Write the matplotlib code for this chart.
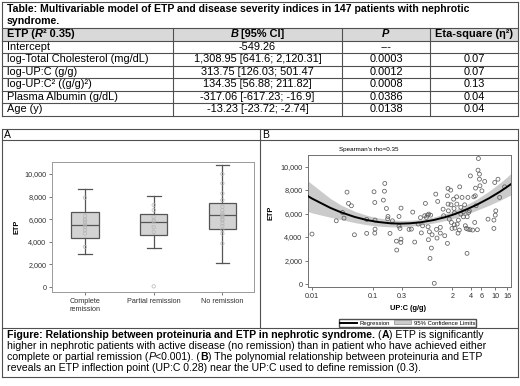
import numpy as np
import matplotlib
matplotlib.use('Agg')
import matplotlib.pyplot as plt
from matplotlib.lines import Line2D
from matplotlib.patches import Rectangle, Patch

plt.rcParams['font.family'] = ['Liberation Sans', 'DejaVu Sans']

W, H = 520, 386

# ---- table data ----
table_title = ["Table: Multivariable model of ETP and disease severity indices in 147 patients with nephrotic",
               "syndrome."]
row_labels = ["Intercept", "log-Total Cholesterol (mg/dL)", "log-UP:C (g/g)",
              "log-UP:C\u00b2 ((g/g)\u00b2)", "Plasma Albumin (g/dL)", "Age (y)"]
b_ci = ["-549.26", "1,308.95 [641.6; 2,120.31]", "313.75 [126.03; 501.47",
        "134.35 [56.88; 211.82]", "-317.06 [-617.23; -16.9]", "-13.23 [-23.72; -2.74]"]
p_vals = ["---", "0.0003", "0.0012", "0.0008", "0.0386", "0.0138"]
eta_sq = ["", "0.07", "0.07", "0.13", "0.04", "0.04"]

# ---- panel A: box plot by remission status ----
groups = ["Complete\nremission", "Partial remission", "No remission"]
box_lo = [2900, 3460, 2130]
box_q1 = [4350, 4560, 5150]
box_med = [5530, 5770, 6330]
box_q3 = [6600, 6420, 7430]
box_hi = [8640, 8050, 10770]
pts_complete = [7900, 6300, 6000, 5900, 5700, 5470, 5300, 5030, 4730, 3550]
pts_partial = [7250, 6800, 6200, 5900, 5800, 5300, 4880, 60]
pts_none = [10000, 9170, 8280, 7690, 7100, 6800, 6500, 6350, 6200, 6000, 5900,
            5620, 5400, 5030, 4730, 3850]
a_yticks = [0, 2000, 4000, 6000, 8000, 10000]

# ---- panel B: ETP vs UP:C ----
upc = [0.01, 0.025, 0.0316, 0.0335, 0.0375, 0.0397, 0.0443, 0.0496, 0.0788, 0.0788,
       0.104, 0.107, 0.108, 0.108, 0.107, 0.148, 0.156, 0.154, 0.166, 0.174,
       0.176, 0.19, 0.208, 0.245, 0.267, 0.267, 0.277, 0.288, 0.288, 0.286,
       0.242,
       0.426, 0.483, 0.448, 0.705, 0.723, 0.75, 0.78, 0.82, 0.88, 0.8,
       0.84, 0.93, 0.81, 0.906, 0.86, 1.01, 1.07, 1.15, 1.1, 1.12,
       1.27, 1.27, 1.41, 1.44, 1.5, 1.66, 1.7, 1.66, 1.7, 1.72,
       1.78, 1.88, 1.9, 1.93, 1.97, 2.1, 2.13, 2.17, 2.15, 2.2,
       2.35, 2.37, 2.4, 2.51, 2.64, 2.75, 2.75, 2.6, 2.48, 2.88,
       3.03, 3.03, 3.18, 3.26, 3.38, 3.48, 3.5, 3.6, 3.6, 3.7,
       3.8, 3.89, 4.3, 4.65, 4.75, 4.9, 5.14, 4.5, 4.8, 3.95,
       5.27, 5.56, 5.35, 5.56, 5.67, 6.1, 6.78, 7.68, 9.6, 9.6,
       9.9, 10.1, 10.3, 11.2, 11.9, 14.4, 0.39, 0.55, 0.6, 0.65,
       0.62]
etp = [4250, 5380, 6090, 5610, 7820, 6860, 6660, 4190, 4310, 5500,
       7850, 6940, 5440, 4670, 4330, 7140, 8560, 7900, 6430, 5550,
       5750, 4310, 5380, 2890, 5750, 4930, 4730, 6460, 3820, 3540,
       3650,
       4670, 3570, 6120, 5810, 6860, 5670, 5860, 5950, 5860, 4870,
       4450, 4190, 3770, 3060, 2180, 60, 7650, 7030, 4650, 3910,
       4820, 4330, 6370, 5810, 4110, 3460, 8130, 7510, 6800, 6230,
       5520, 7990, 6740, 5240, 4730, 7220, 6430, 6060, 5040, 4760,
       7420, 6800, 5100, 5440, 8270, 6520, 5950, 4590, 4330, 7370,
       6150, 5720, 6740, 4960, 4730, 2610, 5720, 7370, 4670, 6090,
       6230, 4620, 4590, 5240, 7510, 6660, 4620, 7420, 8160, 9200,
       9690, 9350, 10680, 8920, 8360, 7930, 8730, 5520, 5440, 4730,
       8640, 5860, 6230, 8920, 7370, 8270, 4650, 5100, 5650, 4950,
       4350]
curve_x = [0.0086, 0.01, 0.02, 0.03, 0.05, 0.08, 0.12, 0.2, 0.28, 0.4,
           0.6, 1, 1.5, 2, 3, 5, 8, 12, 16, 18.3]
curve_y = [7475, 7275, 6480, 6100, 5710, 5440, 5280, 5160, 5140, 5165,
           5250, 5450, 5680, 5880, 6220, 6740, 7300, 7850, 8290, 8500]
ci_lo = [6175, 6055, 5680, 5480, 5230, 5040, 4930, 4860, 4870, 4910,
         5010, 5195, 5390, 5560, 5840, 6270, 6700, 7110, 7440, 7580]
ci_hi = [8775, 8495, 7280, 6720, 6190, 5840, 5630, 5460, 5410, 5420,
         5490, 5705, 5970, 6200, 6600, 7210, 7900, 8590, 9140, 9420]
b_xticks = [0.01, 0.1, 0.3, 2, 4, 6, 10, 16]
b_xticklabels = ["0.01", "0.1", "0.3", "2", "4", "6", "10", "16"]

fig = plt.figure(figsize=(5.2, 3.86), dpi=100)
fig.patch.set_facecolor('white')
r = fig.canvas.get_renderer()
LC = '#505050'


def X(x):
    return x / W


def Y(y):
    return 1 - y / H


def hline(x0, x1, y, lw=0.8, color=LC):
    fig.add_artist(Line2D([X(x0), X(x1)], [Y(y), Y(y)], transform=fig.transFigure,
                          color=color, lw=lw))


def vline(x, y0, y1, lw=0.8, color=LC):
    fig.add_artist(Line2D([X(x), X(x)], [Y(y0), Y(y1)], transform=fig.transFigure,
                          color=color, lw=lw))


def tw(s, **kw):
    t = fig.text(0, 0, '|' + s + '|', **kw)
    w1 = t.get_window_extent(r).width
    t.remove()
    t = fig.text(0, 0, '||', **kw)
    w0 = t.get_window_extent(r).width
    t.remove()
    return w1 - w0


def runs(x, y, parts, size, ha='left'):
    # parts: (text, weight, style)
    widths = [tw(s, fontsize=size, fontweight=w, fontstyle=st) for s, w, st in parts]
    cur = x
    if ha == 'center':
        cur = x - sum(widths) / 2
    for (s, w, st), wd in zip(parts, widths):
        lead = len(s) - len(s.lstrip(' '))
        off = tw(' ' * lead, fontsize=size, fontweight=w, fontstyle=st) if lead else 0
        fig.text(X(cur + off), Y(y), s.strip(' '), fontsize=size, fontweight=w,
                 fontstyle=st, va='center', ha='left')
        cur += wd


# ---- table ----
T_TOP, T_HEAD, ROW_H = 1.5, 28, 12.5
col_x = [2, 173, 342, 430, 518]
rows_y = [T_HEAD + ROW_H * (i + 1) for i in range(len(row_labels) + 1)]
fig.add_artist(Rectangle((X(2), Y(T_HEAD + ROW_H)), (516) / W, ROW_H / H,
                         transform=fig.transFigure, facecolor='#d9d9d9', edgecolor='none'))
hline(2, 518, T_TOP)
hline(2, 518, T_HEAD)
for yy in rows_y:
    hline(2, 518, yy)
vline(2, T_TOP, rows_y[-1])
vline(518, T_TOP, rows_y[-1])
for cx in col_x[1:-1]:
    vline(cx, T_HEAD, rows_y[-1])

fs_t = 7.9
for i, line in enumerate(table_title):
    fig.text(X(7), Y(8.5 + 12.5 * i), line, fontsize=7.6, fontweight='bold', va='center')

hy = T_HEAD + ROW_H / 2
runs(7, hy, [("ETP (", 'bold', 'normal'), ("R", 'bold', 'italic'),
             ("\u00b2 0.35)", 'bold', 'normal')], fs_t)
runs((col_x[1] + col_x[2]) / 2, hy, [("B", 'bold', 'italic'), (" [95% CI]", 'bold', 'normal')],
     fs_t, ha='center')
runs((col_x[2] + col_x[3]) / 2, hy, [("P", 'bold', 'italic')], fs_t, ha='center')
runs((col_x[3] + col_x[4]) / 2, hy, [("Eta-square (\u03b7\u00b2)", 'bold', 'normal')], fs_t,
     ha='center')

for i in range(len(row_labels)):
    cy = T_HEAD + ROW_H * (i + 1) + ROW_H / 2
    fig.text(X(7), Y(cy), row_labels[i], fontsize=fs_t, va='center')
    fig.text(X((col_x[1] + col_x[2]) / 2), Y(cy), b_ci[i], fontsize=fs_t, va='center', ha='center')
    fig.text(X((col_x[2] + col_x[3]) / 2), Y(cy), p_vals[i], fontsize=fs_t, va='center', ha='center')
    fig.text(X((col_x[3] + col_x[4]) / 2), Y(cy), eta_sq[i], fontsize=fs_t, va='center', ha='center')

# ---- panel frames ----
P_TOP, P_STRIP, P_BOT, C_BOT = 129, 140, 328, 377
hline(2, 518, P_TOP)
hline(2, 518, P_STRIP)
hline(2, 518, P_BOT)
hline(2, 518, C_BOT)
vline(2, P_TOP, C_BOT)
vline(518, P_TOP, C_BOT)
vline(260, P_TOP, P_BOT)
fig.text(X(4), Y(135), "A", fontsize=7.5, va='center')
fig.text(X(262), Y(135), "B", fontsize=7.5, va='center')


def add_ax(x0, y0, x1, y1):
    return fig.add_axes([X(x0), Y(y1), (x1 - x0) / W, (y1 - y0) / H])


tick_kw = dict(labelsize=5.2, length=2.5, width=0.6, color='#606060', pad=1.5, labelcolor='#303030')

# panel A
axA = add_ax(52, 162, 254, 292)
stats = [dict(med=m, q1=a, q3=b, whislo=lo, whishi=hi, fliers=[], label=g)
         for g, lo, a, m, b, hi in zip(groups, box_lo, box_q1, box_med, box_q3, box_hi)]
lp = dict(color='#555555', lw=0.9)
axA.bxp(stats, positions=[1, 2, 3], widths=0.4, capwidths=0.2, patch_artist=True,
        showfliers=False, boxprops=dict(facecolor='#d3d3d3', edgecolor='#555555', lw=0.9),
        medianprops=lp, whiskerprops=lp, capprops=lp)
for i, pts in enumerate([pts_complete, pts_partial, pts_none]):
    axA.scatter([i + 1] * len(pts), pts, s=6, facecolors='none', edgecolors='#b5b5b5',
                linewidths=0.5, zorder=3)
axA.set_xlim(0.52, 3.46)
axA.set_ylim(-440, 11060)
axA.set_yticks(a_yticks)
axA.set_yticklabels([f"{v:,}" for v in a_yticks])
axA.set_xticks([1, 2, 3])
axA.set_xticklabels(groups)
axA.tick_params(**tick_kw)
for s in axA.spines.values():
    s.set_color('#9a9a9a')
    s.set_linewidth(0.7)
fig.text(X(17), Y(227), "ETP", rotation=90, fontsize=5.3, fontweight='bold', va='center', ha='center')

# panel B
axB = add_ax(308, 155, 511, 287)
axB.fill_between(curve_x, ci_lo, ci_hi, color='#cbcbcb', lw=0, zorder=1)
axB.scatter(upc, etp, s=8, facecolors='none', edgecolors='#5f5f5f', linewidths=0.55, zorder=2)
axB.plot(curve_x, curve_y, color='black', lw=1.4, zorder=3)
axB.set_xscale('log')
axB.set_xlim(0.0086, 18.3)
axB.set_ylim(-255, 10980)
axB.set_xticks(b_xticks)
axB.set_xticklabels(b_xticklabels)
axB.minorticks_off()
axB.set_yticks(a_yticks)
axB.set_yticklabels([f"{v:,}" for v in a_yticks])
axB.tick_params(**tick_kw)
for s in axB.spines.values():
    s.set_color('#707070')
    s.set_linewidth(0.7)
fig.text(X(369), Y(149), "Spearman's rho=0.35", fontsize=4.5, va='center', ha='center')
fig.text(X(408), Y(309), "UP:C (g/g)", fontsize=5.3, fontweight='bold', va='center', ha='center')
fig.text(X(271), Y(213), "ETP", rotation=90, fontsize=5.3, fontweight='bold', va='center', ha='center')
handles = [Line2D([], [], color='black', lw=1.4), Patch(facecolor='#cbcbcb', edgecolor='#777777', lw=0.4)]
fig.legend(handles, ["Regression", "95% Confidence Limits"], loc='center',
           bbox_to_anchor=(X(407.5), Y(323)), ncol=2, fontsize=4.3, frameon=True, fancybox=False,
           edgecolor='#505050', framealpha=1, handlelength=2.8, handleheight=0.6,
           borderpad=0.25, columnspacing=0.8, handletextpad=0.4, borderaxespad=0)

# ---- caption ----
fs_c = 7.6
cap_lines = [
    [("Figure: Relationship between proteinuria and ETP in nephrotic syndrome.", 'bold', 'normal'),
     (" (", 'normal', 'normal'), ("A", 'bold', 'normal'), (") ETP is significantly", 'normal', 'normal')],
    [("higher in nephrotic patients with active disease (no remission) than in patient who have achieved either",
      'normal', 'normal')],
    [("complete or partial remission (", 'normal', 'normal'), ("P", 'normal', 'italic'),
     ("<0.001). (", 'normal', 'normal'), ("B", 'bold', 'normal'),
     (") The polynomial relationship between proteinuria and ETP", 'normal', 'normal')],
    [("reveals an ETP inflection point (UP:C 0.28) near the UP:C used to define remission (0.3).",
      'normal', 'normal')],
]
for i, parts in enumerate(cap_lines):
    runs(7, 334.5 + 11.2 * i, parts, fs_c)

fig.savefig('out.png', dpi=100, facecolor='white')
